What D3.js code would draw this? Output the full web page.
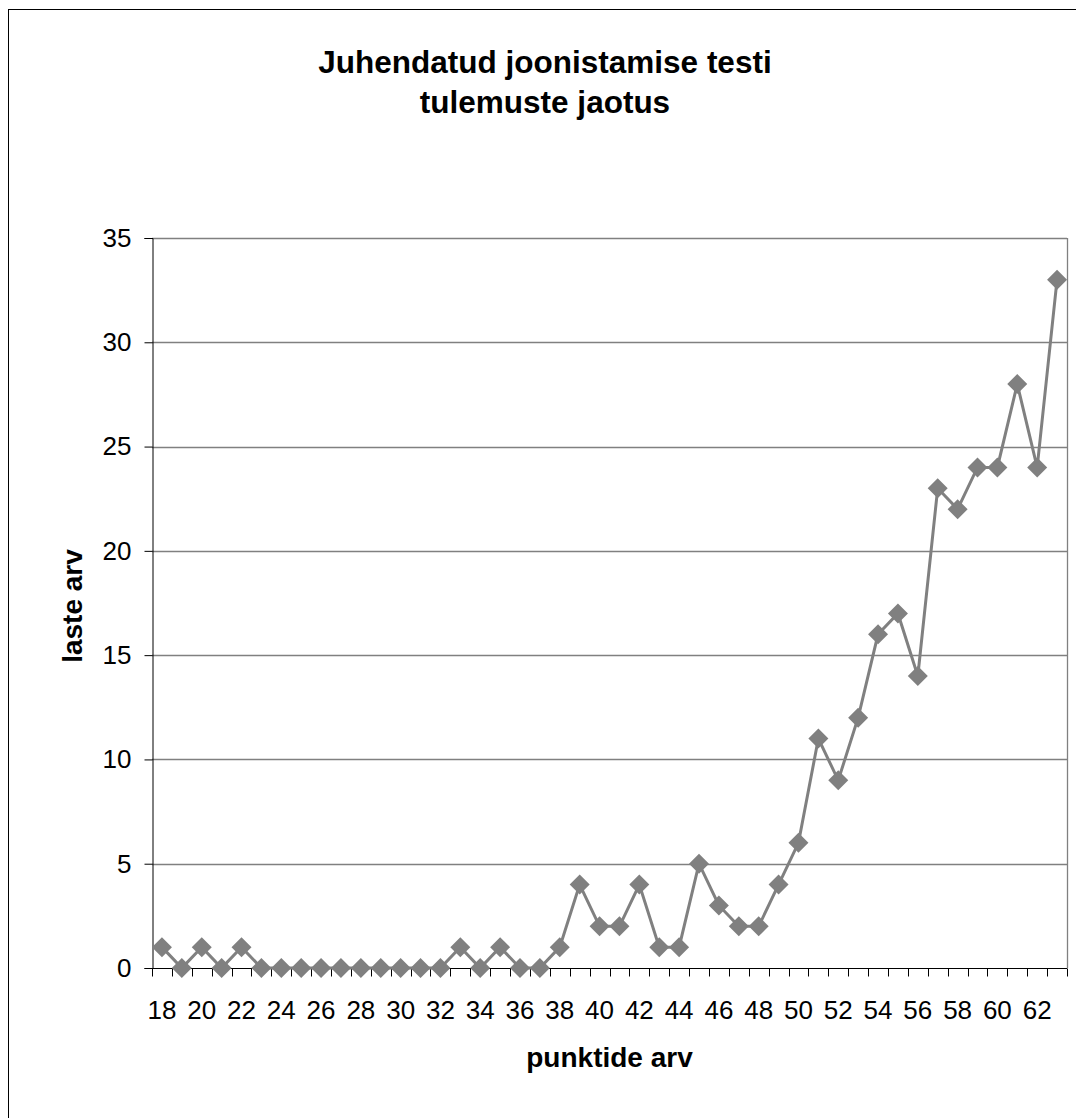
<!DOCTYPE html>
<html>
<head>
<meta charset="utf-8">
<script src="https://cdn.jsdelivr.net/npm/d3@7"></script>
<style>
  body { margin: 0; background: #fff; }
  text { font-family: "Liberation Sans", Arial, sans-serif; }
</style>
</head>
<body>
<svg id="chart" width="1076" height="1118"></svg>
<script>
// punktide arv (x categories)
const scores = d3.range(18, 64);
// laste arv (number of children) per score
const counts = [1, 0, 1, 0, 1, 0, 0, 0, 0, 0, 0, 0, 0, 0, 0, 1, 0, 1, 0, 0,
                1, 4, 2, 2, 4, 1, 1, 5, 3, 2, 2, 4, 6, 11, 9, 12, 16, 17, 14, 23,
                22, 24, 24, 28, 24, 33];
const yTicks = [0, 5, 10, 15, 20, 25, 30, 35];
const titleLines = ["Juhendatud joonistamise testi", "tulemuste jaotus"];

const data = scores.map((s, i) => ({ score: s, count: counts[i] }));

const svg = d3.select("#chart");
const plotLeft = 152, plotRight = 1067, plotTop = 238, plotBottom = 968;
const grey = "#808080";

// outer chart border (only left/top visible in frame)
svg.append("rect")
    .attr("x", 8.5).attr("y", 9.5)
    .attr("width", 1100).attr("height", 1150)
    .attr("fill", "none").attr("stroke", "#000").attr("stroke-width", 1);

const x = d3.scaleBand().domain(scores).range([plotLeft, plotRight]);
const y = d3.scaleLinear().domain([0, 35]).range([plotBottom, plotTop]);

// gridlines
svg.append("g")
    .selectAll("line")
    .data(yTicks.filter(d => d > 0))
    .enter().append("line")
    .attr("x1", plotLeft).attr("x2", plotRight)
    .attr("y1", d => Math.round(y(d)) + 0.5)
    .attr("y2", d => Math.round(y(d)) + 0.5)
    .attr("stroke", grey).attr("stroke-width", 1.3);

// right plot edge
svg.append("line")
    .attr("x1", plotRight + 0.5).attr("x2", plotRight + 0.5)
    .attr("y1", plotTop).attr("y2", plotBottom)
    .attr("stroke", grey).attr("stroke-width", 1.3);

// y axis
const yAxis = svg.append("g")
    .attr("transform", `translate(${plotLeft + 0.5},0)`)
    .call(d3.axisLeft(y).tickValues(yTicks).tickSize(8).tickPadding(13));
yAxis.selectAll("text").attr("font-size", 26).attr("fill", "#000")
    .style("font-family", "'Liberation Sans', Arial, sans-serif");

// x axis: ticks between categories, labels on every other category
const xAxis = svg.append("g")
    .attr("transform", `translate(0,${plotBottom + 0.5})`);
xAxis.append("line")
    .attr("x1", plotLeft).attr("x2", plotRight)
    .attr("stroke", "#000");
xAxis.selectAll("line.tick")
    .data(d3.range(scores.length + 1))
    .enter().append("line")
    .attr("class", "tick")
    .attr("x1", i => Math.round(plotLeft + i * x.step()) + 0.5)
    .attr("x2", i => Math.round(plotLeft + i * x.step()) + 0.5)
    .attr("y1", 0).attr("y2", 8)
    .attr("stroke", "#000");
xAxis.selectAll("text")
    .data(scores.filter((s, i) => i % 2 === 0))
    .enter().append("text")
    .attr("x", d => x(d) + x.bandwidth() / 2)
    .attr("y", 50)
    .attr("text-anchor", "middle")
    .attr("font-size", 26)
    .text(d => d);

// series line
const line = d3.line()
    .x(d => x(d.score) + x.bandwidth() / 2)
    .y(d => y(d.count));
svg.append("path")
    .datum(data)
    .attr("d", line)
    .attr("fill", "none")
    .attr("stroke", grey)
    .attr("stroke-width", 3);

// diamond markers
const diamond = d3.symbol().type(d3.symbolSquare).size(200);
svg.append("g")
    .selectAll("path")
    .data(data)
    .enter().append("path")
    .attr("d", diamond)
    .attr("transform", d => `translate(${x(d.score) + x.bandwidth() / 2},${y(d.count)}) rotate(45)`)
    .attr("fill", grey);

// title
svg.append("text")
    .attr("x", 545).attr("y", 73)
    .attr("text-anchor", "middle")
    .attr("font-size", 31.5).attr("font-weight", "bold")
    .selectAll("tspan")
    .data(titleLines)
    .enter().append("tspan")
    .attr("x", 545)
    .attr("dy", (d, i) => i === 0 ? 0 : 40)
    .text(d => d);

// axis titles
svg.append("text")
    .attr("x", (plotLeft + plotRight) / 2).attr("y", 1067)
    .attr("text-anchor", "middle")
    .attr("font-size", 28).attr("font-weight", "bold")
    .text("punktide arv");

svg.append("text")
    .attr("transform", `translate(82,606) rotate(-90)`)
    .attr("text-anchor", "middle")
    .attr("font-size", 28).attr("font-weight", "bold")
    .text("laste arv");
</script>
</body>
</html>
